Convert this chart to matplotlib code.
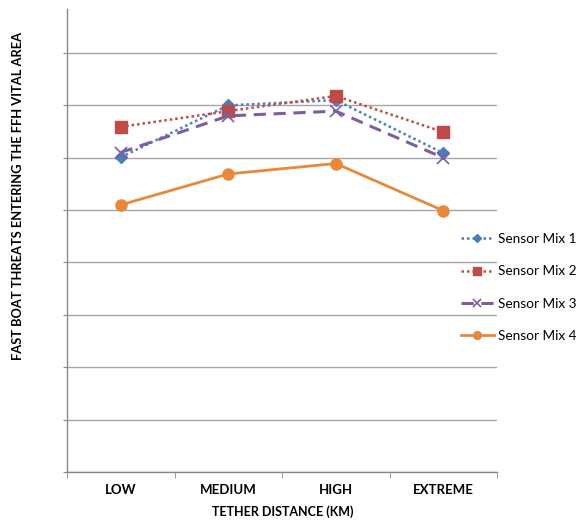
import matplotlib
matplotlib.use("Agg")
import matplotlib.pyplot as plt
from matplotlib.ticker import FixedLocator

categories = ["LOW", "MEDIUM", "HIGH", "EXTREME"]
mix1 = [6.01, 7.00, 7.10, 6.09]
mix2 = [6.59, 6.89, 7.18, 6.49]
mix3 = [6.10, 6.80, 6.89, 6.00]
mix4 = [5.10, 5.69, 5.89, 4.99]
series_names = ["Sensor Mix 1", "Sensor Mix 2", "Sensor Mix 3", "Sensor Mix 4"]

plt.rcParams["font.family"] = ["Lato", "DejaVu Sans"]

W, H = 582, 520
fig = plt.figure(figsize=(W / 100, H / 100), dpi=100)
ax = fig.add_axes([67 / W, (H - 472) / H, (497 - 67) / W, (472 - 9) / H])

x = list(range(len(categories)))
styles = [
    dict(color="#4A7EBB", linestyle=(0, (1, 1.2)), marker="D", markersize=6, linewidth=1.8),
    dict(color="#BE4B48", linestyle=(0, (1, 1.2)), marker="s", markersize=8, linewidth=1.8),
    dict(color="#7D5FA0", linestyle=(0, (4, 2.5)), marker="x", markersize=8, markeredgewidth=1.2, linewidth=2.2),
    dict(color="#E8883A", linestyle="-", marker="o", markersize=8, linewidth=2.0),
]
for vals, name, st in zip([mix1, mix2, mix3, mix4], series_names, styles):
    ax.plot(x, vals, label=name, **st)

ax.set_xlim(-0.5, 3.5)
ax.set_ylim(0, 8.84)
ax.yaxis.set_major_locator(FixedLocator(range(0, 9)))
ax.set_yticklabels([])
ax.grid(axis="y", color="#a6a6a6", linewidth=1.0)
ax.set_axisbelow(True)

ax.set_xticks(x)
ax.set_xticklabels(categories, fontsize=9.5, fontweight="bold")
ax.xaxis.set_minor_locator(FixedLocator([-0.5, 0.5, 1.5, 2.5, 3.5]))
ax.tick_params(axis="x", which="major", length=0, pad=9)
ax.tick_params(axis="x", which="minor", length=4, color="#888888", direction="out")
ax.tick_params(axis="y", length=3, color="#888888", direction="out")

for side in ["top", "right"]:
    ax.spines[side].set_visible(False)
for side in ["left", "bottom"]:
    ax.spines[side].set_color("#888888")
    ax.spines[side].set_linewidth(1.0)

fig.text(283 / W, 1 - 512 / H, "TETHER DISTANCE (KM)", ha="center", va="center",
         fontsize=9, fontweight="bold")
fig.text(18 / W, 1 - 196 / H, "FAST BOAT THREATS ENTERING THE FFH VITAL AREA",
         ha="center", va="center", rotation=90, fontsize=9.3, fontweight="bold")

leg = ax.legend(loc="upper left", bbox_to_anchor=(461 / W, 1 - 233 / H),
                bbox_transform=fig.transFigure, frameon=False, fontsize=9.8,
                handlelength=2.4, handletextpad=0.3, labelspacing=1.5,
                markerscale=0.7, borderaxespad=0, borderpad=0)

fig.savefig("out.png", dpi=100)
